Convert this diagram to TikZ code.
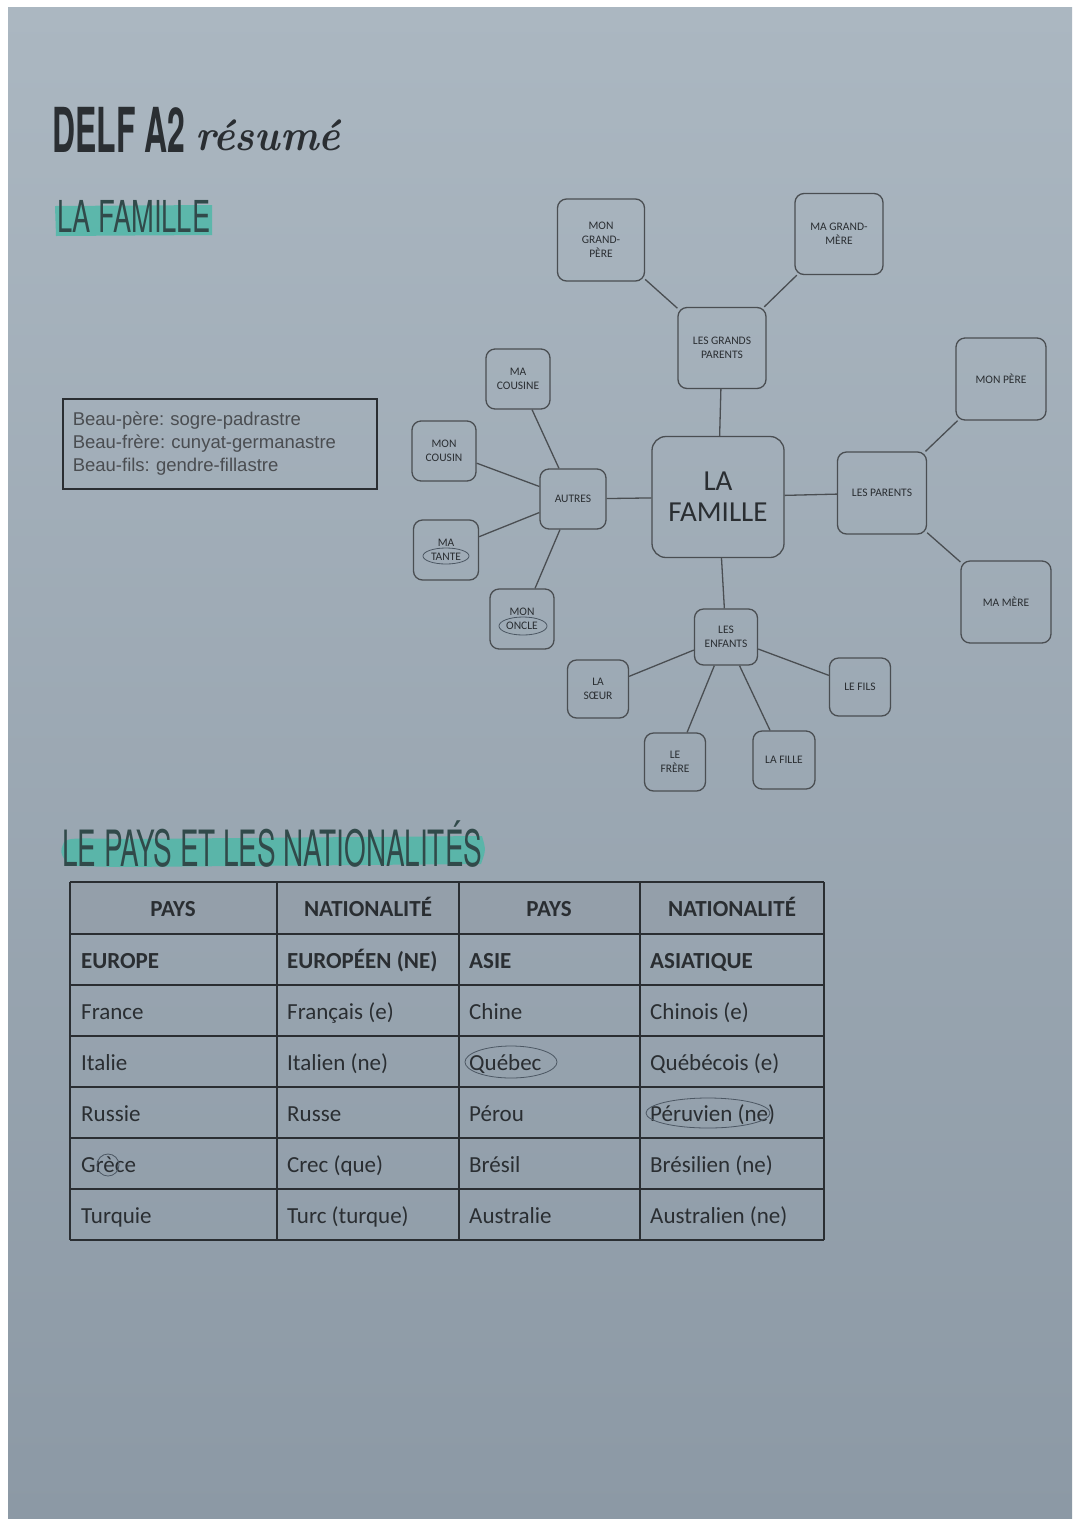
\documentclass[tikz,border=0pt]{standalone}
\usepackage{fontspec}
\usepackage{graphicx}
\newfontfamily\heros{TeX Gyre Heros}
\newfontfamily\libsans{Liberation Sans}
\newfontfamily\carlito{Carlito}
\newcommand\fitw[2]{\resizebox{#1}{\height}{#2}}
\definecolor{pagetop}{HTML}{ABB7C1}
\definecolor{pagebot}{HTML}{8C99A5}
\definecolor{ink}{HTML}{2A2E32}
\definecolor{boxline}{HTML}{4A4E52}
\definecolor{teal}{HTML}{4FB8A8}
\definecolor{headfill}{HTML}{949FAA}
\definecolor{pen}{HTML}{4C5763}
\tikzset{
  fn/.style={draw=boxline, line width=1.3pt, rounded corners=9pt, align=center,
    text=ink, inner sep=2pt, font=\carlito\fontsize{11.5}{14}\selectfont},
  edge/.style={draw=boxline, line width=1.3pt},
  cell/.style={anchor=base west, text=ink, inner sep=0pt, font=\carlito\fontsize{23}{26}\selectfont},
  hcell/.style={anchor=base, text=ink, inner sep=0pt, font=\carlito\bfseries\fontsize{23}{26}\selectfont},
  bcell/.style={cell, font=\carlito\bfseries\fontsize{23}{26}\selectfont},
  grid/.style={draw=ink, line width=1.6pt},
  penline/.style={draw=pen, line width=0.8pt},
}
\begin{document}
\begin{tikzpicture}[x=1pt,y=-1pt]
\useasboundingbox (0,0) rectangle (1080,1527);
\fill[white] (0,0) rectangle (1080,1527);
\shade[top color=pagetop, bottom color=pagebot] (8,7) rectangle (1072,1518);

% titles
\node[anchor=base west, inner sep=0pt, text=ink] (title) at (52,152)
  {\heros\bfseries\fontsize{62}{62}\selectfont\fitw{133pt}{DELF A2}};
\node[anchor=base west, inner sep=0pt, text=ink] (resume) at (195,150)
  {\bfseries\itshape\fontsize{44}{44}\selectfont\fitw{145pt}{résumé}};

\fill[teal, opacity=0.85] (55,206) -- (212,205) -- (212,235) -- (56,236) -- cycle;
\node[anchor=base west, inner sep=0pt, text=ink!80!teal] (famhead) at (57,232)
  {\heros\fontsize{44}{44}\selectfont\fitw{153pt}{LA FAMILLE}};

% note box
\node[draw=ink, line width=1.5pt, anchor=north west, minimum width=314, minimum height=90,
  text width=294, inner xsep=10pt, align=left, text=ink!85!white,
  font=\libsans\fontsize{18.5}{23}\selectfont\frenchspacing] (note) at (62,398)
  {Beau-père: sogre-padrastre\\Beau-frère: cunyat-germanastre\\Beau-fils: gendre-fillastre};

% mind map
\node[fn, minimum width=87, minimum height=82] (gp) at (601,240) {MON\\GRAND-\\PÈRE};
\node[fn, minimum width=88, minimum height=81] (gm) at (839,234) {MA GRAND-\\MÈRE};
\node[fn, minimum width=88, minimum height=81] (gps) at (722,348) {LES GRANDS\\PARENTS};
\node[fn, minimum width=64, minimum height=60] (cousine) at (518,379) {MA\\COUSINE};
\node[fn, minimum width=64, minimum height=60] (cousin) at (444,451) {MON\\COUSIN};
\node[fn, minimum width=66, minimum height=60] (autres) at (573,499) {AUTRES};
\node[fn, minimum width=132, minimum height=121, rounded corners=14pt,
  font=\carlito\fontsize{29}{31}\selectfont] (fam) at (718,497) {LA\\FAMILLE};
\node[fn, minimum width=89, minimum height=82] (parents) at (882,493) {LES PARENTS};
\node[fn, minimum width=90, minimum height=82] (pere) at (1001,379) {MON PÈRE};
\node[fn, minimum width=90, minimum height=82] (mere) at (1006,602) {MA MÈRE};
\node[fn, minimum width=65, minimum height=60] (tante) at (446,550) {MA\\TANTE};
\node[fn, minimum width=64, minimum height=60] (oncle) at (522,619) {MON\\ONCLE};
\node[fn, minimum width=63, minimum height=56] (enfants) at (726,637) {LES\\ENFANTS};
\node[fn, minimum width=61, minimum height=58] (soeur) at (598,689) {LA\\SŒUR};
\node[fn, minimum width=61, minimum height=58] (fils) at (860,687) {LE FILS};
\node[fn, minimum width=61, minimum height=58] (frere) at (675,762) {LE\\FRÈRE};
\node[fn, minimum width=62, minimum height=58] (fille) at (784,760) {LA FILLE};

\draw[edge] (fam) -- (gps);
\draw[edge] (fam) -- (autres);
\draw[edge] (fam) -- (parents);
\draw[edge] (fam) -- (enfants);
\draw[edge] (gps) -- (gp);
\draw[edge] (gps) -- (gm);
\draw[edge] (autres) -- (cousine);
\draw[edge] (autres) -- (cousin);
\draw[edge] (autres) -- (tante);
\draw[edge] (autres) -- (oncle);
\draw[edge] (parents) -- (pere);
\draw[edge] (parents) -- (mere);
\draw[edge] (enfants) -- (soeur);
\draw[edge] (enfants) -- (frere);
\draw[edge] (enfants) -- (fille);
\draw[edge] (enfants) -- (fils);

% pen marks
\draw[penline] (446,556) ellipse [x radius=23, y radius=8];
\draw[penline] (523,626) ellipse [x radius=24, y radius=9];

% countries heading
\fill[teal, opacity=0.85] (64,842) .. controls (70,838) .. (120,839) -- (482,836)
  .. controls (486,850) .. (481,864) -- (120,867) .. controls (70,866) .. (66,862)
  .. controls (60,852) .. cycle;
\node[anchor=base west, inner sep=0pt, text=ink!80!teal] (payshead) at (62,866)
  {\heros\fontsize{50}{50}\selectfont\fitw{420pt}{LE PAYS ET LES NATIONALITÉS}};

% table
\fill[headfill] (70,882) rectangle (824,934);
\foreach \yy in {882,934,985,1036,1087,1138,1189,1240}
  \draw[grid] (70,\yy) -- (824,\yy);
\foreach \xx in {70,277,459,640,824}
  \draw[grid] (\xx,882) -- (\xx,1240);

\node[hcell] (h1) at (173,916) {PAYS};
\node[hcell] (h2) at (368,916) {NATIONALITÉ};
\node[hcell] (h3) at (549,916) {PAYS};
\node[hcell] (h4) at (732,916) {NATIONALITÉ};

\node[bcell] (a1) at (81,968) {EUROPE};
\node[bcell] (b1) at (287,968) {EUROPÉEN (NE)};
\node[bcell] (c1) at (469,968) {ASIE};
\node[bcell] (d1) at (650,968) {ASIATIQUE};

\node[cell] (a2) at (81,1019) {France};
\node[cell] (b2) at (287,1019) {Français (e)};
\node[cell] (c2) at (469,1019) {Chine};
\node[cell] (d2) at (650,1019) {Chinois (e)};

\node[cell] (a3) at (81,1070) {Italie};
\node[cell] (b3) at (287,1070) {Italien (ne)};
\node[cell] (c3) at (469,1070) {Québec};
\node[cell] (d3) at (650,1070) {Québécois (e)};

\node[cell] (a4) at (81,1121) {Russie};
\node[cell] (b4) at (287,1121) {Russe};
\node[cell] (c4) at (469,1121) {Pérou};
\node[cell] (d4) at (650,1121) {Péruvien (ne)};

\node[cell] (a5) at (81,1172) {Grèce};
\node[cell] (b5) at (287,1172) {Crec (que)};
\node[cell] (c5) at (469,1172) {Brésil};
\node[cell] (d5) at (650,1172) {Brésilien (ne)};

\node[cell] (a6) at (81,1223) {Turquie};
\node[cell] (b6) at (287,1223) {Turc (turque)};
\node[cell] (c6) at (469,1223) {Australie};
\node[cell] (d6) at (650,1223) {Australien (ne)};

% pen marks in table
\draw[penline] (511,1062) ellipse [x radius=46, y radius=16];
\draw[penline] (708,1113) ellipse [x radius=62, y radius=15];
\draw[penline] (108,1165) circle [radius=11];
\end{tikzpicture}
\end{document}
